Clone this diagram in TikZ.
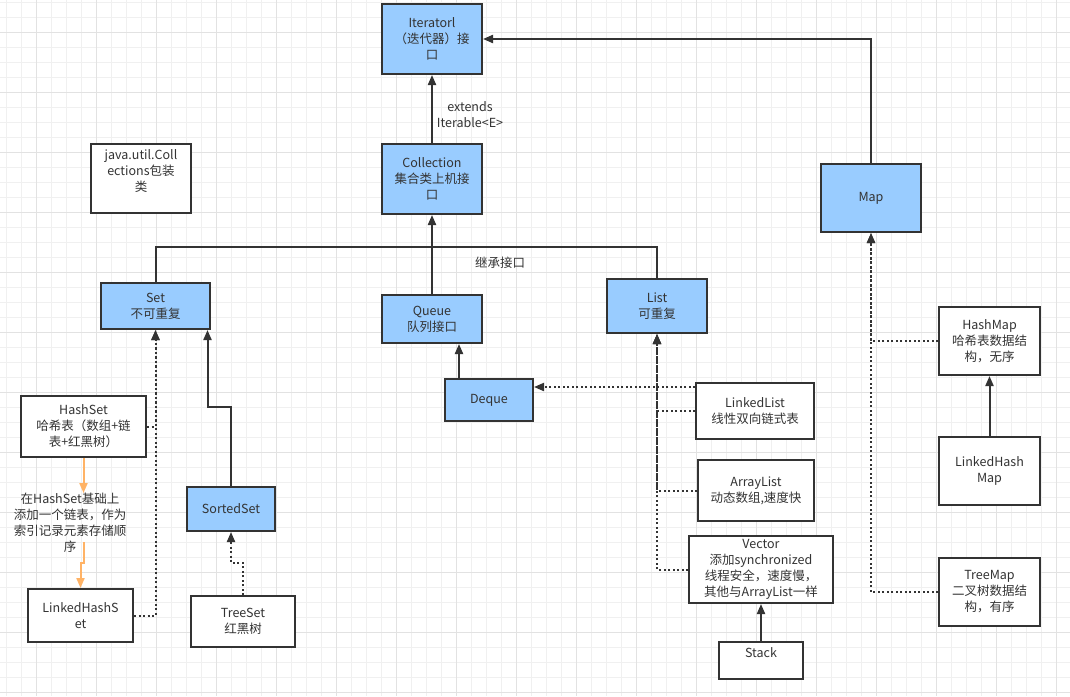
\documentclass[tikz,border=0pt]{standalone}
\usepackage{fontspec}
\setmainfont{Noto Sans CJK SC}
\usetikzlibrary{arrows.meta}

\definecolor{boxblue}{HTML}{99CCFF}
\definecolor{inkgray}{HTML}{333333}
\definecolor{noteorange}{HTML}{FFB366}
\definecolor{gridminor}{HTML}{F0F0F0}
\definecolor{gridmajor}{HTML}{E2E2E2}

\tikzset{
  box/.style={draw=inkgray, line width=2pt, fill=white, text=inkgray, align=center, inner sep=2pt, font=\fontsize{12.5}{16}\selectfont},
  bluebox/.style={box, fill=boxblue},
  tag/.style={text=inkgray, align=center, inner sep=0pt, font=\fontsize{12.5}{16}\selectfont},
  link/.style={draw=inkgray, line width=2pt, -{Triangle[length=10pt,width=8pt]}},
  plainlink/.style={draw=inkgray, line width=2pt},
  dotlink/.style={link, dash pattern=on 2pt off 2.5pt},
  notelink/.style={draw=noteorange, line width=2pt, -{Triangle[length=10pt,width=8pt,fill=noteorange]}}
}

\begin{document}
\begin{tikzpicture}[x=1pt,y=-1pt]
\useasboundingbox (0,0) rectangle (1070,696);
\fill [white] (0,0) rectangle (1070,696);
% canvas grid
\foreach \k in {0,...,71} \draw [gridminor, line width=0.8pt] ({6.7+15*\k},0) -- ({6.7+15*\k},696);
\foreach \k in {0,...,46} \draw [gridminor, line width=0.8pt] (0,{2.3+15*\k}) -- (1070,{2.3+15*\k});
\foreach \k in {0,...,17} \draw [gridmajor, line width=0.8pt] ({36.7+60*\k},0) -- ({36.7+60*\k},696);
\foreach \k in {0,...,11} \draw [gridmajor, line width=0.8pt] (0,{32.3+60*\k}) -- (1070,{32.3+60*\k});

% interfaces
\node [bluebox, minimum width=100pt, minimum height=70pt] (iter) at (432,39) {Iteratorl\\（迭代器）接\\口};
\node [bluebox, minimum width=100pt, minimum height=70pt] (coll) at (432,179) {Collection\\集合类上机接\\口};
\node [bluebox, minimum width=109pt, minimum height=46pt] (set) at (155.5,306) {Set\\不可重复};
\node [bluebox, minimum width=100pt, minimum height=48pt] (queue) at (432,319) {Queue\\队列接口};
\node [bluebox, minimum width=100pt, minimum height=54pt] (list) at (657,306) {List\\可重复};
\node [bluebox, minimum width=88pt, minimum height=42pt] (deque) at (489,400) {Deque};
\node [bluebox, minimum width=100pt, minimum height=68pt] (map) at (871,198) {Map};
\node [bluebox, minimum width=88pt, minimum height=44pt] (sortedset) at (231,509) {SortedSet};

% classes
\node [box, minimum width=100pt, minimum height=69pt] (util) at (141,178.5) {java.util.Coll\\ections包装\\类\\~};
\node [box, minimum width=125pt, minimum height=61pt] (hashset) at (83.5,426.5) {HashSet\\哈希表（数组+链\\表+红黑树）};
\node [box, minimum width=105pt, minimum height=53pt] (lhset) at (80.5,615.5) {LinkedHashS\\et};
\node [box, minimum width=104pt, minimum height=51pt] (treeset) at (243,621.5) {TreeSet\\红黑树};
\node [box, minimum width=118pt, minimum height=56pt] (linkedlist) at (755,411) {LinkedList\\线性双向链式表};
\node [box, minimum width=116pt, minimum height=61pt] (arraylist) at (756,490.5) {ArrayList\\动态数组,速度快};
\node [box, minimum width=144pt, minimum height=67pt] (vector) at (761,569.5) {Vector\\添加synchronized\\线程安全，速度慢，\\其他与ArrayList一样};
\node [box, minimum width=84pt, minimum height=37pt] (stack) at (761,660.5) {Stack\\~};
\node [box, minimum width=101pt, minimum height=68pt] (hashmap) at (989.5,341) {HashMap\\哈希表数据结\\构，无序};
\node [box, minimum width=101pt, minimum height=68pt] (lhmap) at (989.5,471) {LinkedHash\\Map};
\node [box, minimum width=101pt, minimum height=68pt] (treemap) at (989.5,592) {TreeMap\\二叉树数据结\\构，有序};

% texts
\node [tag] (extlabel) at (470,115) {extends\\Iterable<E>};
\node [tag] (buslabel) at (500,263) {继承接口};
\node [tag] (lhsnote) at (70,523) {在HashSet基础上\\添加一个链表，作为\\索引记录元素存储顺\\序};
\coordinate (busjoin) at (432,247);
\coordinate (notebot) at (83.5,542);

% connectors
\draw [link] (coll.north) -- (iter.south);
\draw [link] (map.north) |- (iter.east);
\draw [plainlink] (set.north) |- (busjoin);
\draw [plainlink] (list.north) |- (busjoin);
\draw [plainlink] (queue.north) -- (busjoin);
\draw [link] (busjoin) -- (coll.south);
\draw [link] ([xshift=-30pt]deque.north) -- ([xshift=-30pt]deque.north |- queue.south);
\draw [dotlink] (hashset.east) -| (set.south);
\draw [dotlink] (lhset.east) -| (set.south);
\draw [link] (sortedset.north) -- ++(0,-79) -| ([xshift=52pt]set.south);
\draw [dotlink] (treeset.north) -- ++(0,-32) -| (sortedset.south);
\draw [notelink] (hashset.south) -- (hashset.south |- lhsnote.north);
\draw [notelink] (notebot) -- ++(0,21) -| (lhset.north);
\draw [dotlink] (linkedlist.west) -| (list.south);
\draw [dotlink] (arraylist.west) -| (list.south);
\draw [dotlink] (vector.west) -| (list.south);
\draw [dotlink] ([yshift=24pt]linkedlist.west) -- ([yshift=24pt]linkedlist.west -| deque.east);
\draw [link] (stack.north) -- (vector.south);
\draw [dotlink] (hashmap.west) -| (map.south);
\draw [dotlink] (treemap.west) -| (map.south);
\draw [link] (lhmap.north) -- (hashmap.south);
\end{tikzpicture}
\end{document}
